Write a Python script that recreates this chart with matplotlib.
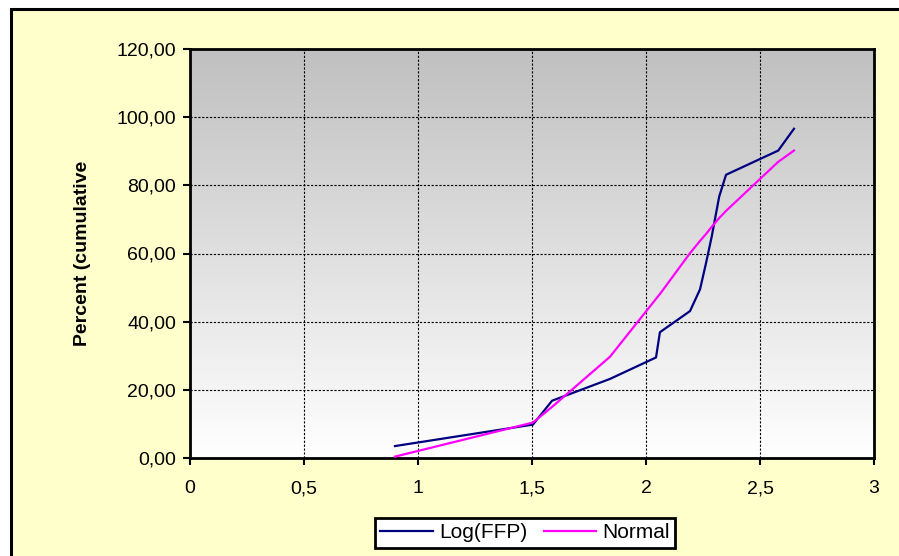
import numpy as np
from matplotlib import pyplot as plt
from matplotlib.colors import LinearSegmentedColormap
from matplotlib.patches import Rectangle
from matplotlib.ticker import FuncFormatter, MultipleLocator

plt.rcParams["font.family"] = ["Liberation Sans", "DejaVu Sans"]

# cumulative percentages vs. log(FFP)
log_ffp_x = [0.899, 1.504, 1.588, 1.842, 2.044, 2.061, 2.193, 2.237, 2.263,
             2.288, 2.321, 2.351, 2.580, 2.649]
log_ffp_pct = [3.5, 9.8, 16.8, 23.2, 29.5, 36.9, 43.1, 49.5, 57.1,
               64.9, 76.7, 83.1, 90.2, 96.6]
normal_pct = [0.4, 10.4, 15.0, 29.7, 46.7, 48.1, 60.1, 63.7, 65.7,
              67.8, 70.4, 72.5, 86.9, 90.2]

series_labels = ["Log(FFP)", "Normal"]
series_colors = ["#000080", "#FF00FF"]

W, H = 899, 556
fig = plt.figure(figsize=(W / 100, H / 100), dpi=100)
fig.patch.set_facecolor("white")

# chart area: pale yellow with a black edge on top/left
fig.patches.append(Rectangle((11 / W, -0.1), 1.2, 1 - 9 / H + 0.1,
                             transform=fig.transFigure, facecolor="#FFFFCC",
                             edgecolor="black", linewidth=2.2, zorder=-5))

ax = fig.add_axes([190 / W, (H - 458) / H, 684 / W, 409 / H])
ax.set_zorder(1)
ax.set_xlim(0, 3)
ax.set_ylim(0, 120)

# grey-to-white gradient behind the plot
grad = np.linspace(0, 1, 256).reshape(-1, 1)
bg = LinearSegmentedColormap.from_list("bg", ["#FFFFFF", "#C0C0C0"])
ax.imshow(grad, extent=[0, 3, 0, 120], aspect="auto", origin="lower",
          cmap=bg, zorder=0)

ax.plot(log_ffp_x, log_ffp_pct, color=series_colors[0], linewidth=1.6,
        label=series_labels[0], zorder=3)
ax.plot(log_ffp_x, normal_pct, color=series_colors[1], linewidth=1.6,
        label=series_labels[1], zorder=3)

ax.xaxis.set_major_locator(MultipleLocator(0.5))
ax.yaxis.set_major_locator(MultipleLocator(20))
ax.xaxis.set_major_formatter(FuncFormatter(lambda v, p: f"{v:g}".replace(".", ",")))
ax.yaxis.set_major_formatter(FuncFormatter(lambda v, p: f"{v:.2f}".replace(".", ",")))

ax.grid(True, color="black", linestyle=(0, (2, 1.5)), linewidth=0.8, zorder=1)
ax.set_axisbelow(False)
for s in ax.spines.values():
    s.set_linewidth(2)
ax.tick_params(direction="out", length=5, width=1.5, labelsize=14,
               colors="black")
ax.tick_params(axis="x", pad=11)
ax.tick_params(axis="y", pad=5)

ax.set_ylabel("Percent (cumulative", fontsize=14, fontweight="bold", labelpad=18)

leg = fig.legend(loc="center", bbox_to_anchor=(525 / W, 1 - 533 / H), ncol=2,
                 fontsize=15, frameon=True, fancybox=False, framealpha=1,
                 handlelength=2.5, handletextpad=0.3, columnspacing=0.8,
                 borderpad=0.25)
leg.get_frame().set_edgecolor("black")
leg.get_frame().set_linewidth(2)
leg.get_frame().set_facecolor("white")

fig.savefig("out.png", dpi=100)
